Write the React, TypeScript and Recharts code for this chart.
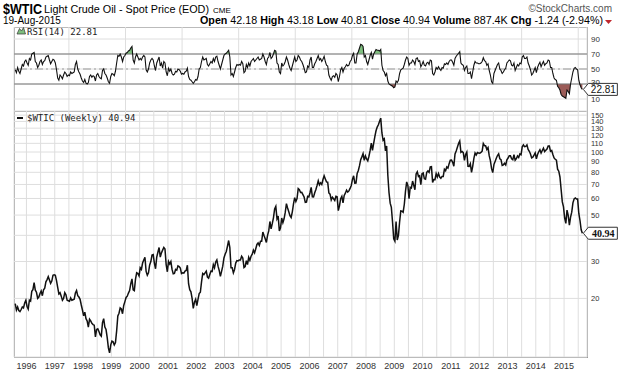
import React from "react";
import {
  ComposedChart,
  Line,
  Area,
  XAxis,
  YAxis,
  CartesianGrid,
  ReferenceLine,
  ReferenceDot,
} from "recharts";

// weekly chart, sampled as two closes per month starting Aug 1995
const START_YEAR = 1995;
const START_MONTH = 7;

const closes: number[] = [
  // 1995 (Aug-Dec)
  18.9, 17.6, 18.2, 17.5, 17.3, 17.7, 18.2, 18.0, 19.0, 19.6,
  // 1996
  18.3, 17.8, 19.6, 19.4, 21.6, 22.0, 23.8, 21.9, 21.4, 20.0, 20.3, 21.1,
  21.7, 20.6, 22.0, 22.4, 24.0, 24.6, 25.4, 24.5, 23.6, 24.2, 25.8, 25.9,
  // 1997
  25.8, 24.3, 22.6, 21.0, 21.3, 20.5, 19.6, 20.0, 21.3, 20.8, 19.6, 19.5,
  19.4, 20.1, 19.6, 19.7, 19.8, 21.2, 21.8, 20.6, 20.3, 19.8, 18.6, 17.6,
  // 1998
  16.5, 17.2, 16.0, 15.6, 14.6, 15.9, 15.6, 15.2, 15.0, 14.9, 13.1, 14.2,
  14.3, 13.9, 13.4, 13.2, 15.3, 16.0, 14.6, 14.2, 13.0, 11.6, 11.0, 12.0,
  // 1999
  12.5, 12.4, 12.0, 12.3, 14.0, 16.5, 17.0, 18.0, 17.8, 16.9, 18.5, 19.3,
  20.2, 20.5, 21.2, 21.8, 23.5, 24.8, 22.0, 21.8, 24.7, 26.5, 26.3, 25.6,
  // 2000
  28.0, 27.5, 29.5, 30.5, 31.4, 26.9, 25.8, 26.5, 28.9, 30.0, 32.2, 32.4,
  29.5, 27.7, 31.5, 33.2, 35.0, 31.5, 33.0, 34.0, 35.0, 34.4, 29.0, 26.8,
  // 2001
  30.0, 29.2, 30.0, 27.5, 26.2, 26.3, 27.5, 27.3, 28.6, 28.4, 27.9, 26.3,
  26.5, 26.4, 27.0, 27.2, 28.8, 23.5, 22.0, 21.5, 20.0, 17.9, 19.2, 19.8,
  // 2002
  18.5, 19.8, 21.1, 21.4, 24.0, 26.3, 26.0, 26.5, 27.0, 25.3, 25.0, 26.0,
  27.0, 26.9, 29.0, 28.0, 29.8, 30.5, 28.5, 27.2, 25.5, 26.9, 28.5, 31.2,
  // 2003
  32.5, 33.5, 35.5, 37.8, 35.0, 28.0, 28.0, 26.5, 27.5, 29.5, 30.3, 30.2,
  30.5, 30.5, 31.8, 31.2, 28.1, 28.4, 30.3, 29.0, 31.4, 30.4, 31.8, 32.5,
  // 2004
  34.0, 33.0, 34.5, 36.2, 36.8, 35.8, 37.5, 37.5, 41.5, 39.9, 38.5, 37.0,
  40.0, 42.0, 46.6, 43.0, 45.5, 48.5, 53.5, 55.0, 48.0, 49.4, 42.0, 43.5,
  // 2005
  48.4, 46.0, 48.0, 51.5, 56.7, 54.0, 51.9, 49.7, 48.7, 51.8, 56.6, 60.5,
  58.0, 60.0, 66.9, 66.1, 64.1, 64.2, 62.6, 61.0, 57.5, 57.7, 61.4, 61.0,
  // 2006
  63.9, 67.8, 61.1, 61.0, 63.9, 66.3, 69.3, 72.9, 69.7, 71.3, 70.0, 73.9,
  77.0, 74.4, 72.0, 71.8, 63.8, 62.9, 59.0, 60.8, 59.8, 58.7, 61.5, 61.1,
  // 2007
  52.5, 55.4, 59.9, 61.4, 57.1, 62.0, 63.6, 65.8, 64.4, 65.2, 67.0, 69.2,
  74.0, 77.0, 71.0, 71.1, 79.1, 81.6, 86.1, 91.9, 94.8, 98.2, 91.3, 95.9,
  // 2008
  92.7, 90.7, 95.5, 101.8, 110.2, 101.8, 110.1, 118.5, 126.3, 131.6, 134.9, 140.2,
  145.1, 123.3, 113.8, 115.5, 101.2, 106.9, 77.7, 64.1, 57.0, 54.4, 46.3, 38.5,
  // 2009
  37.5, 46.5, 38.0, 40.0, 46.3, 52.3, 52.2, 51.6, 56.3, 65.1, 72.0, 69.2,
  59.9, 67.9, 67.3, 72.7, 69.3, 66.0, 78.5, 80.5, 76.4, 77.0, 69.9, 78.8,
  // 2010
  79.4, 74.5, 74.1, 80.0, 81.2, 80.0, 84.9, 85.1, 71.6, 73.9, 73.8, 78.9,
  76.0, 78.9, 76.0, 75.0, 76.5, 76.5, 82.7, 81.4, 84.9, 83.8, 88.0, 91.4,
  // 2011
  91.5, 89.3, 85.6, 97.9, 101.2, 105.4, 109.7, 112.9, 99.7, 100.6, 99.3, 91.2,
  97.2, 99.9, 85.4, 85.3, 87.9, 79.9, 85.5, 93.3, 98.9, 96.8, 99.4, 98.8,
  // 2012
  98.7, 99.6, 100.9, 109.8, 107.4, 106.9, 102.8, 104.9, 96.1, 90.9, 83.3, 79.8,
  87.1, 90.1, 93.4, 96.2, 98.0, 92.9, 91.9, 86.3, 86.9, 88.3, 86.7, 91.8,
  // 2013
  93.6, 95.9, 95.9, 92.9, 91.9, 97.2, 91.3, 92.9, 95.8, 94.2, 97.9, 97.0,
  105.9, 108.1, 106.0, 106.4, 108.2, 103.0, 100.8, 97.9, 93.8, 94.5, 96.6, 99.0,
  // 2014
  92.7, 97.3, 100.3, 102.6, 98.9, 101.7, 104.3, 100.6, 102.0, 103.4, 106.9, 106.8,
  100.8, 101.7, 97.4, 93.7, 92.3, 91.4, 82.8, 81.0, 76.0, 66.2, 57.8, 54.7,
  // 2015 (Jan-Aug)
  48.4, 45.6, 52.8, 49.8, 44.8, 48.9, 51.6, 57.2, 59.7, 60.3, 59.6, 59.6,
  50.9, 47.1, 42.5, 40.94,
];

const rsiValues: number[] = [
  // 1995
  49, 45, 52, 47, 44, 50, 56, 54, 60, 62,
  // 1996
  58, 55, 64, 62, 70, 71, 72, 60, 58, 52, 55, 60, 62, 56, 60, 61, 66, 67, 68, 62, 57, 60, 63, 62,
  // 1997
  58, 49, 38, 35, 42, 40, 37, 42, 46, 44, 40, 42, 41, 46, 44, 45, 46, 56, 60, 50, 46, 43, 38, 34,
  // 1998
  32, 36, 31, 30, 32, 40, 42, 39, 41, 40, 34, 42, 44, 40, 38, 37, 48, 50, 44, 42, 38, 33, 31, 40,
  // 1999
  44, 43, 41, 47, 58, 68, 67, 70, 66, 60, 66, 68, 71, 72, 74, 75, 78, 80, 62, 58, 66, 70, 66, 62,
  // 2000
  64, 62, 66, 68, 66, 49, 46, 50, 58, 62, 64, 62, 54, 48, 58, 62, 66, 54, 58, 51, 60, 58, 46, 41,
  // 2001
  51, 47, 50, 44, 42, 43, 47, 46, 50, 49, 47, 43, 44, 43, 46, 47, 51, 40, 36, 35, 33, 31, 33, 36,
  // 2002
  35, 40, 50, 52, 60, 66, 62, 63, 64, 56, 54, 57, 60, 58, 64, 60, 66, 67, 60, 55, 50, 56, 62, 68,
  // 2003
  70, 71, 73, 75, 66, 42, 44, 40, 46, 52, 56, 55, 56, 55, 60, 57, 45, 47, 56, 52, 58, 54, 60, 62,
  // 2004
  64, 60, 62, 64, 66, 62, 63, 64, 70, 66, 60, 56, 64, 66, 72, 64, 66, 70, 75, 74, 58, 56, 46, 44,
  // 2005
  58, 54, 56, 60, 66, 62, 56, 51, 48, 54, 60, 66, 60, 62, 68, 66, 62, 60, 56, 51, 45, 46, 54, 52,
  // 2006
  62, 66, 52, 52, 57, 60, 64, 68, 62, 64, 60, 63, 67, 60, 55, 54, 42, 38, 35, 40, 41, 39, 44, 42,
  // 2007
  33, 40, 49, 52, 46, 51, 53, 56, 54, 55, 60, 62, 68, 71, 58, 58, 70, 73, 78, 83, 82, 80, 66, 68,
  // 2008
  60, 56, 62, 68, 72, 63, 70, 73, 76, 75, 75, 74, 76, 55, 48, 46, 41, 44, 34, 30, 29, 28, 27, 25,
  // 2009
  26, 34, 32, 35, 44, 49, 50, 51, 56, 62, 66, 64, 55, 58, 58, 62, 60, 56, 64, 65, 60, 61, 53, 56,
  // 2010
  60, 55, 54, 58, 59, 56, 62, 61, 44, 42, 46, 52, 50, 53, 50, 48, 52, 51, 57, 56, 58, 56, 60, 62,
  // 2011
  62, 59, 55, 64, 67, 69, 71, 73, 58, 56, 55, 48, 52, 54, 44, 44, 46, 37, 46, 55, 60, 58, 58, 57,
  // 2012
  57, 58, 60, 65, 61, 60, 55, 57, 48, 42, 33, 31, 44, 48, 52, 56, 58, 50, 48, 44, 46, 49, 51, 58,
  // 2013
  60, 62, 61, 55, 54, 58, 48, 52, 56, 54, 58, 57, 66, 68, 64, 64, 66, 58, 54, 49, 42, 44, 48, 52,
  // 2014
  45, 52, 56, 59, 53, 57, 60, 55, 57, 58, 62, 61, 52, 52, 44, 38, 36, 35, 27, 25, 22, 16, 14, 13,
  // 2015
  12, 11, 22, 20, 17, 30, 38, 46, 51, 52, 50, 49, 35, 29, 25, 22.81,
];

const years = [
  1996, 1997, 1998, 1999, 2000, 2001, 2002, 2003, 2004, 2005,
  2006, 2007, 2008, 2009, 2010, 2011, 2012, 2013, 2014, 2015,
];
const priceTicks = [20, 30, 40, 50, 60, 70, 80, 90, 100, 110, 120, 130, 140, 150];
const rsiTicks = [10, 30, 50, 70, 90];

const X_DOMAIN: [number, number] = [1995.56, 2015.81];
const gridTicks = years.flatMap((y) => [y, y + 0.5]);

const data = closes.map((close, i) => {
  const rsi = rsiValues[i];
  return {
    t: START_YEAR + (START_MONTH + (i + 0.5) / 2) / 12,
    close,
    rsi,
    oversold: Math.min(rsi, 30),
    overbought: Math.max(rsi, 70),
  };
});
const last = data[data.length - 1];

const FONT = "'Liberation Sans', Arial, sans-serif";
const MONO = "'DejaVu Sans Mono', monospace";

const YearTick = ({ x, y, payload }: any) =>
  Number.isInteger(payload.value) ? (
    <text x={x} y={y + 4} textAnchor="middle" fontSize={9} fill="#333" fontFamily={FONT}>
      {payload.value}
    </text>
  ) : (
    <g />
  );

// the 40 label sits under the last-value tag
const PriceTick = ({ x, y, payload }: any) =>
  payload.value === 40 ? (
    <g />
  ) : (
    <text x={x - 4} y={y + 2.5} fontSize={7.5} fill="#333" fontFamily={FONT}>
      {payload.value}
    </text>
  );

const RsiTick = ({ x, y, payload }: any) => (
  <text x={x - 4} y={payload.value === 30 ? y + 1 : y + 3} fontSize={8} fill="#333" fontFamily={FONT}>
    {payload.value}
  </text>
);

const makeTag = (label: string, bold: boolean) => (props: any) => {
  const { cx, cy } = props;
  const x0 = cx + 1;
  return (
    <g>
      <path
        d={`M${x0},${cy} L${x0 + 5},${cy - 6} L${x0 + 34},${cy - 6} L${x0 + 34},${cy + 6} L${x0 + 5},${cy + 6} Z`}
        fill="#fff"
        stroke="#333"
      />
      <text
        x={x0 + 20}
        y={cy + 4}
        textAnchor="middle"
        fontSize={10}
        fontWeight={bold ? "bold" : "normal"}
        fontFamily={bold ? "'Liberation Serif', serif" : FONT}
        fill="#111"
      >
        {label}
      </text>
    </g>
  );
};

const PriceTag = makeTag("40.94", true);
const RsiTag = makeTag("22.81", false);

export default function App() {
  return (
    <div
      style={{
        position: "absolute",
        left: 0,
        top: 0,
        width: 620,
        height: 373,
        background: "#fff",
        overflow: "hidden",
      }}
    >
      <svg width={620} height={373} style={{ position: "absolute", left: 0, top: 0 }}>
        <text x={3} y={14} fontSize={14} fontWeight="bold" fontFamily={FONT} textLength={39} lengthAdjust="spacingAndGlyphs">
          $WTIC
        </text>
        <text x={44} y={13} fontSize={10} fontFamily={FONT} textLength={165} lengthAdjust="spacingAndGlyphs">
          Light Crude Oil - Spot Price (EOD)
        </text>
        <text x={213} y={13} fontSize={8} fontFamily={FONT}>
          CME
        </text>
        <text x={612} y={12} fontSize={10} fill="#555" textAnchor="end" fontFamily={FONT}>
          ©StockCharts.com
        </text>
        <text x={3} y={24} fontSize={10} fontFamily={FONT}>
          19-Aug-2015
        </text>
        <text x={200} y={24} fontSize={10} fontFamily={FONT} textLength={403} lengthAdjust="spacingAndGlyphs">
          <tspan fontWeight="bold">Open</tspan> 42.18 <tspan fontWeight="bold">High</tspan> 43.18{" "}
          <tspan fontWeight="bold">Low</tspan> 40.81 <tspan fontWeight="bold">Close</tspan> 40.94{" "}
          <tspan fontWeight="bold">Volume</tspan> 887.4K <tspan fontWeight="bold">Chg</tspan> -1.24 (-2.94%)
        </text>
        <path d="M605,20 L612,20 L608.5,24 Z" fill="#c0272d" />
        <rect x={14.5} y={27.5} width={573} height={84} fill="none" stroke="#999" />
        <rect x={14.5} y={111.5} width={573} height={246} fill="none" stroke="#999" />
      </svg>

      <div style={{ position: "absolute", left: 0, top: 27 }}>
        <ComposedChart width={620} height={84} data={data} margin={{ top: 0, right: 0, bottom: 0, left: 14 }}>
          <CartesianGrid stroke="#dedede" />
          <XAxis hide type="number" dataKey="t" domain={X_DOMAIN} ticks={gridTicks} allowDataOverflow />
          <YAxis
            orientation="right"
            domain={[-6, 106]}
            ticks={rsiTicks}
            width={33}
            axisLine={false}
            tickLine={false}
            interval={0}
            tick={<RsiTick />}
            allowDataOverflow
          />
          <ReferenceLine y={70} stroke="#777" />
          <ReferenceLine y={30} stroke="#777" />
          <ReferenceLine y={50} stroke="#999" strokeDasharray="8 3 2 3" />
          <Area dataKey="oversold" baseValue={30} fill="#9b5b57" fillOpacity={1} stroke="none" isAnimationActive={false} />
          <Area dataKey="overbought" baseValue={70} fill="#7fbf7f" fillOpacity={1} stroke="none" isAnimationActive={false} />
          <Line dataKey="rsi" stroke="#111" strokeWidth={1.1} dot={false} isAnimationActive={false} />
          <ReferenceDot x={last.t} y={last.rsi} shape={RsiTag} ifOverflow="visible" />
        </ComposedChart>
      </div>

      <div style={{ position: "absolute", left: 0, top: 111 }}>
        <ComposedChart width={620} height={262} data={data} margin={{ top: 0, right: 0, bottom: 0, left: 14 }}>
          <CartesianGrid stroke="#dedede" />
          <XAxis
            type="number"
            dataKey="t"
            domain={X_DOMAIN}
            ticks={gridTicks}
            interval={0}
            allowDataOverflow
            axisLine={false}
            tickLine={false}
            height={16}
            tick={<YearTick />}
          />
          <YAxis
            orientation="right"
            scale="log"
            domain={[10.5, 157]}
            ticks={priceTicks}
            width={33}
            axisLine={false}
            tickLine={false}
            interval={0}
            tick={<PriceTick />}
            allowDataOverflow
          />
          <Line dataKey="close" stroke="#111" strokeWidth={1.5} dot={false} isAnimationActive={false} />
          <ReferenceDot x={last.t} y={last.close} shape={PriceTag} ifOverflow="visible" />
        </ComposedChart>
      </div>

      <svg width={620} height={373} style={{ position: "absolute", left: 0, top: 0, pointerEvents: "none" }}>
        <path d="M17,34 L19.5,28.5 L21.5,31 L23.5,27.5 L25.5,34 Z" fill="#7fbf7f" stroke="#333" strokeWidth={0.7} />
        <text x={27} y={35} fontSize={9} fontFamily={MONO} fill="#222">
          RSI(14) 22.81
        </text>
        <line x1={17} y1={118} x2={23} y2={118} stroke="#111" strokeWidth={2} />
        <text x={27} y={121} fontSize={9} fontFamily={MONO} fill="#222">
          $WTIC (Weekly) 40.94
        </text>
      </svg>
    </div>
  );
}
